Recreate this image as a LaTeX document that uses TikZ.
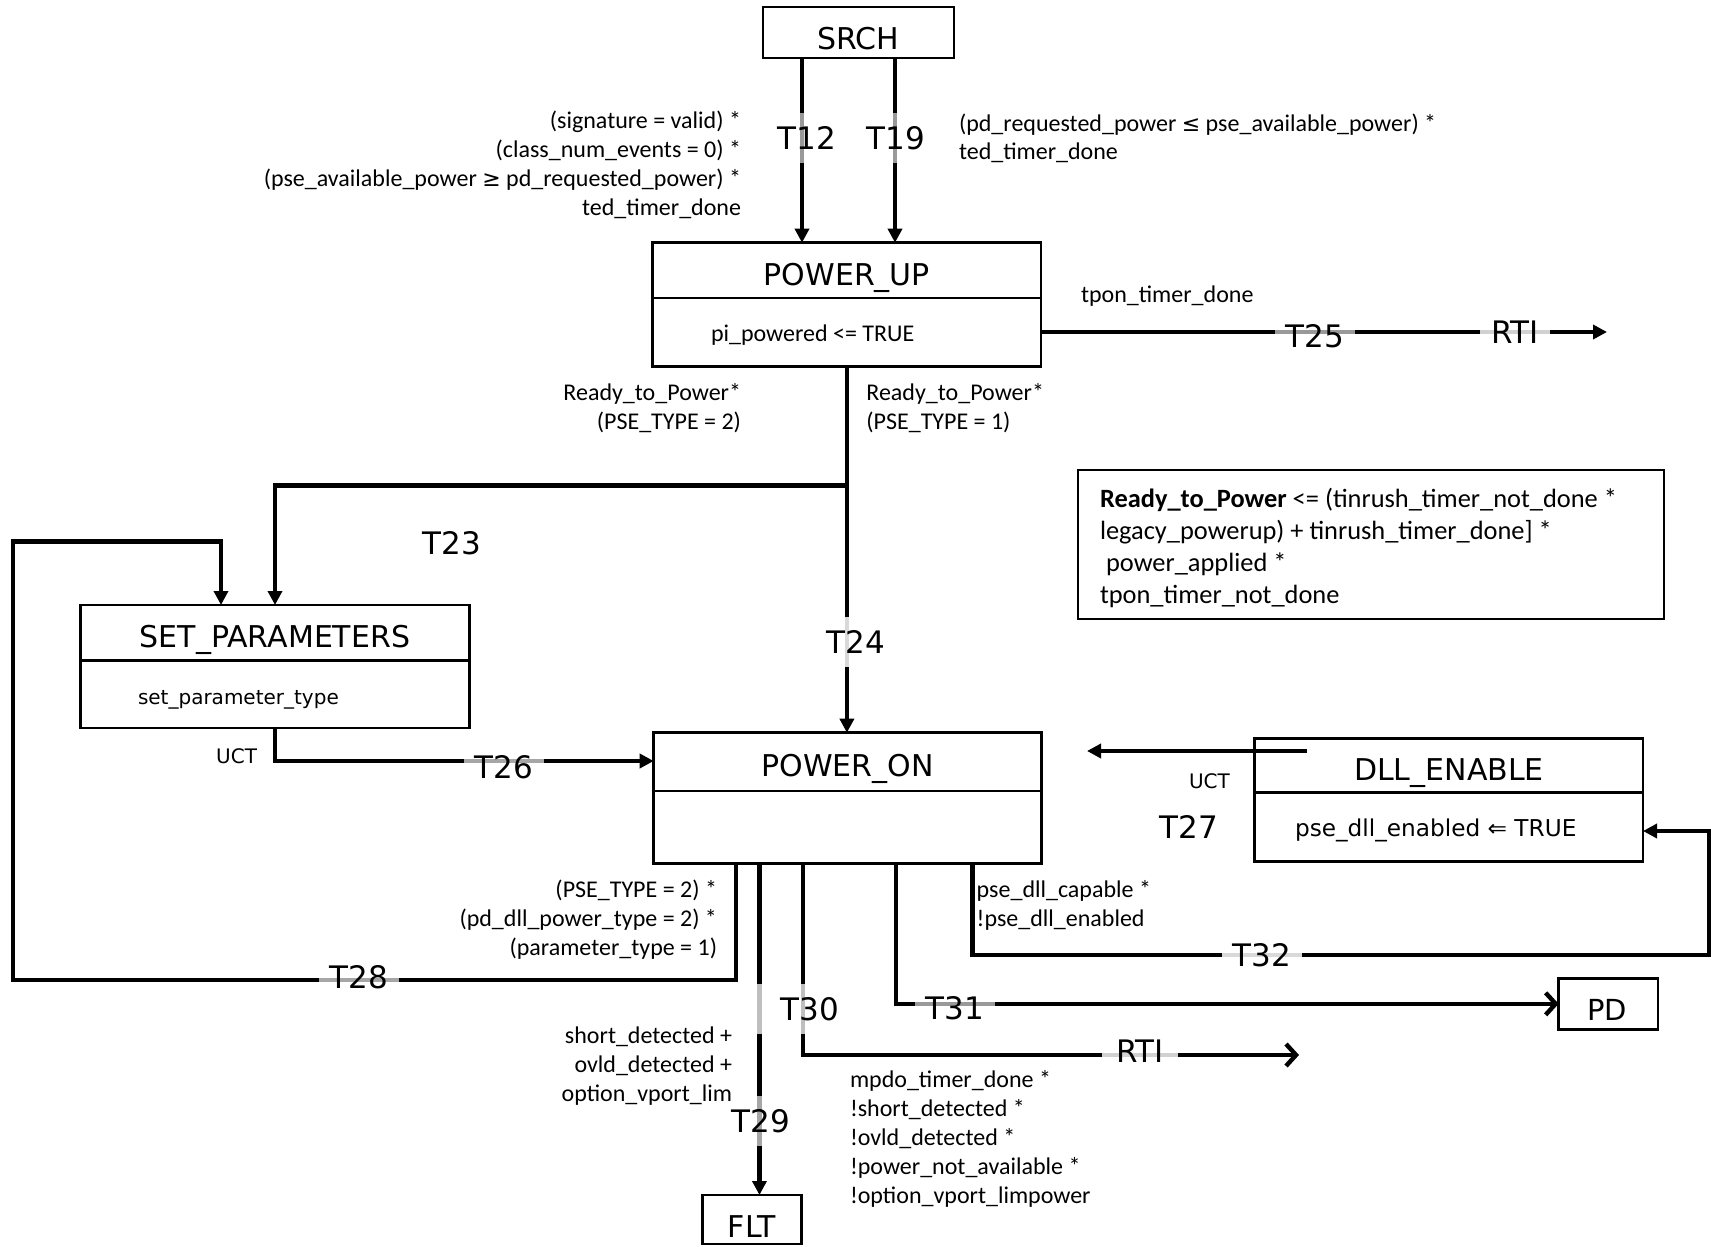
\documentclass[tikz,border=0pt]{standalone}
\usepackage{fontspec}
\setmainfont{Carlito}
\newfontfamily\labelfont{DejaVu Sans}
\newfontfamily\symf{DejaVu Sans}
\usetikzlibrary{arrows.meta,fit}

\tikzset{
  every node/.style={inner sep=0pt, outer sep=0pt},
  statebox/.style={draw, line width=1.4pt, inner sep=0pt},
  divider/.style={line width=1.4pt},
  conn/.style={line width=2.2pt},
  arrF/.style={conn, -{Triangle[length=7pt,width=7pt]}},
  arrB/.style={conn, -{Straight Barb[length=5pt,width=11pt]}},
  stitle/.style={font=\labelfont\fontsize{15}{18}\selectfont, anchor=base},
  tagtext/.style={font=\labelfont\fontsize{15.5}{18}\selectfont},
  tag/.style={tagtext, fill=white, fill opacity=0.6, text opacity=1},
  vtag/.style={tag, minimum height=25pt},
  htag/.style={tag, minimum width=40pt, minimum height=12pt},
  cond/.style={font=\fontsize{12}{14.4}\selectfont},
  % multi-line blocks are placed by the baseline of their last line
  condR/.style={cond, align=right, anchor=base east},
  condL/.style={cond, align=left, anchor=base west},
  smalltext/.style={font=\labelfont\fontsize{10}{12}\selectfont},
}

\begin{document}
\begin{tikzpicture}[x=0.5pt,y=-0.5pt]
\useasboundingbox (0,0) rectangle (1711,1246);
\fill[white] (0,0) rectangle (1711,1246);

% ---------- states ----------
\node[statebox, fit={(763,7) (954,58)}] (srch) {};
\node[stitle] (srchT) at (858.5,50) {SRCH};

\node[statebox, fit={(652.8,242.7) (1041,366.7)}] (pu) {};
\draw[divider] (652.8,298) -- (1041,298);
\node[stitle] (puT) at (846.9,285) {POWER\_UP};
\node[font=\fontsize{12}{14}\selectfont, anchor=base west] (puB) at (711,341) {pi\_powered <= TRUE};

\node[statebox, fit={(80.7,605) (469.3,728)}] (sp) {};
\draw[divider] (80.7,660.4) -- (469.3,660.4);
\node[stitle] (spT) at (275,647) {SET\_PARAMETERS};
\node[smalltext, anchor=base west] (spB) at (138,704) {set\_parameter\_type};

\node[statebox, fit={(653.7,732.7) (1041.6,863.3)}] (pon) {};
\draw[divider] (653.7,791) -- (1041.6,791);
\node[stitle] (ponT) at (847.65,776) {POWER\_ON};

\node[statebox, fit={(1254.5,738.3) (1643,861.7)}] (dll) {};
\draw[divider] (1254.5,792.7) -- (1643,792.7);
\node[stitle] (dllT) at (1449,780.5) {DLL\_ENABLE};
\node[font=\labelfont\fontsize{11.6}{14}\selectfont, anchor=base west] (dllB) at (1295,836) {pse\_dll\_enabled ⇐ TRUE};

\node[statebox, fit={(702.7,1195) (801.7,1244)}] (flt) {};
\node[stitle, font=\labelfont\fontsize{15}{18}\selectfont] (fltT) at (752,1237) {FLT};

\node[statebox, fit={(1558.6,978.3) (1658,1029.3)}] (pd) {};
\node[stitle, font=\labelfont\fontsize{14.5}{18}\selectfont] (pdT) at (1607,1020) {PD};

% ---------- definition note ----------
\node[statebox, fit={(1078,470) (1664,619)}] (note) {};
\node[font=\fontsize{13.2}{16}\selectfont, align=left, anchor=base west] (noteT) at (1100,603.5)
  {\textbf{Ready\_to\_Power} <= (tinrush\_timer\_not\_done *\\
   legacy\_powerup) + tinrush\_timer\_done] *\\
   \hspace*{0.23em}power\_applied *\\
   tpon\_timer\_not\_done};

% ---------- routing points ----------
\coordinate (jn) at (847,485.5);
\coordinate (rtiA) at (1607,332);
\coordinate (c28a) at (13,980);
\coordinate (c28b) at (13,541.5);
\coordinate (rtiB) at (1299,1055);
\coordinate (c32) at (1709,955);

% ---------- transitions ----------
\draw[arrF] ([xshift=-28.25pt]srch.south) -- ([xshift=-28.25pt]srch.south |- pu.north);
\draw[arrF] ([xshift=18.25pt]srch.south) -- ([xshift=18.25pt]srch.south |- pu.north);
\draw[arrF] (pu.east |- rtiA) -- (rtiA);
\draw[arrF] (pu.south) -- (pu.south |- pon.north);
\draw[arrF] (jn) -| (sp.north);
\draw[arrF] (sp.south) |- (pon.west |- 0,761);
\draw[arrF] ([xshift=26.25pt,yshift=24.5pt]dll.west) -- ++(-220,0);
\draw[arrF] ([xshift=-55.8pt]pon.south) |- (c28a) -- (c28b) -| ([xshift=-27pt]sp.north);
\draw[arrF] ([xshift=-44.1pt]pon.south) -- ([xshift=-44.1pt]pon.south |- flt.north);
\draw[arrB] ([xshift=-22.3pt]pon.south) |- (rtiB);
\draw[arrB] ([xshift=24.2pt]pon.south) |- (pd.west);
\draw[arrF] ([xshift=62.5pt]pon.south) |- (c32) |- ([yshift=-15.5pt]dll.east);

% ---------- transition tags ----------
\node[vtag] (t12) at (807,138) {T12};
\node[vtag] (t19) at (896,138) {T19};
\node[htag] (t25) at (1315,336) {T25};
\node[htag, fill opacity=0.82, minimum width=35pt] (rti1) at (1515,332) {RTI};
\node[tagtext] (t23) at (452,543) {T23};
\node[vtag, fill opacity=0.85] (t24) at (856,642) {T24};
\node[htag, fill opacity=0.65] (t26) at (504,767) {T26};
\node[tagtext] (t27) at (1189,826.5) {T27};
\node[htag, fill opacity=0.65] (t28) at (359,977) {T28};
\node[vtag, fill opacity=0.65] (t29) at (761,1121) {T29};
\node[vtag, fill opacity=0.75, text width=42pt, align=right, anchor=east] (t30) at (839,1009) {T30};
\node[htag] (t31) at (955,1008) {T31};
\node[htag, fill opacity=0.85] (t32) at (1262,955) {T32};
\node[htag, fill opacity=0.82, minimum width=38pt] (rti2) at (1140,1051) {RTI};

\node[smalltext, anchor=base east] (uct1) at (257,763) {UCT};
\node[smalltext, anchor=base west] (uct2) at (1189,788) {UCT};

% ---------- guard conditions ----------
\node[condR] (g12) at (741,215) {(signature = valid) *\\(class\_num\_events = 0) *\\(pse\_available\_power {\symf\fontsize{11}{14}\selectfont ≥} pd\_requested\_power) *\\ted\_timer\_done};
\node[condL] (g19) at (959,160) {(pd\_requested\_power {\symf\fontsize{11}{14}\selectfont ≤} pse\_available\_power) *\\ted\_timer\_done};
\node[condL] (g25) at (1081,302) {tpon\_timer\_done};
\node[condR] (g23) at (741,429) {Ready\_to\_Power*\\(PSE\_TYPE = 2)};
\node[condL] (g24) at (866.4,429) {Ready\_to\_Power*\\(PSE\_TYPE = 1)};
\node[condR] (g28) at (717,955.5) {(PSE\_TYPE = 2) *\\(pd\_dll\_power\_type = 2) *\\(parameter\_type = 1)};
\node[condL] (g32) at (976.7,926.5) {pse\_dll\_capable *\\!pse\_dll\_enabled};
\node[condR] (g29) at (732,1101) {short\_detected +\\ovld\_detected +\\option\_vport\_lim};
\node[condL] (g30) at (850,1203) {mpdo\_timer\_done *\\!short\_detected *\\!ovld\_detected *\\!power\_not\_available *\\!option\_vport\_limpower};
\end{tikzpicture}
\end{document}
